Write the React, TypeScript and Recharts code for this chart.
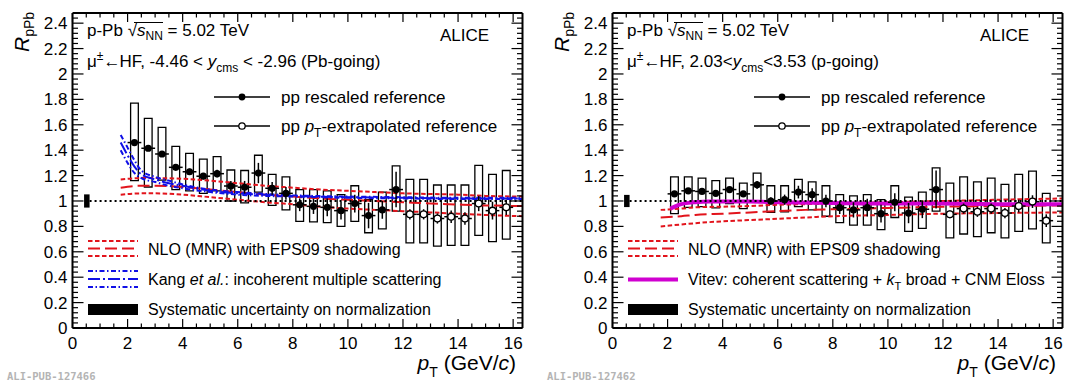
import React from "react";
import {
  ComposedChart,
  XAxis,
  YAxis,
  Line,
  Scatter,
  ErrorBar,
  ReferenceArea,
  ReferenceLine,
} from "recharts";

const FONT = '"Liberation Sans", Arial, Helvetica, sans-serif';
const RED = "#e2141c";
const BLUE = "#1010e6";
const MAGENTA = "#d000d0";

// ---------------- data ----------------
const ptBins = [
  2.25, 2.75, 3.25, 3.75, 4.25, 4.75, 5.25, 5.75, 6.25, 6.75, 7.25, 7.75, 8.25, 8.75,
  9.25, 9.75, 10.25, 10.75, 11.25, 11.75, 12.25, 12.75, 13.25, 13.75, 14.25, 14.75, 15.25, 15.75,
];
const binHalfWidth = 0.25;
const nRescaled = 20; // bins using pp rescaled reference; the rest use pT-extrapolated reference

// Backward (Pb-going)
const bwdRpPb = [1.46, 1.415, 1.37, 1.265, 1.23, 1.195, 1.215, 1.118, 1.108, 1.22, 1.1, 1.06, 0.97, 0.958, 0.95, 0.924, 0.98, 0.885, 0.93, 1.09, 0.895, 0.895, 0.862, 0.876, 0.862, 0.98, 0.924, 0.95];
const bwdStat = [0.02, 0.02, 0.02, 0.02, 0.025, 0.025, 0.03, 0.04, 0.05, 0.08, 0.05, 0.05, 0.05, 0.06, 0.07, 0.07, 0.07, 0.1, 0.07, 0.14, 0.04, 0.04, 0.04, 0.05, 0.05, 0.06, 0.07, 0.06];
const bwdSysLow = [1.16, 1.11, 1.165, 1.09, 1.08, 1.06, 1.08, 1.0, 0.985, 1.07, 0.965, 0.93, 0.84, 0.835, 0.83, 0.8, 0.84, 0.75, 0.78, 0.92, 0.67, 0.67, 0.645, 0.65, 0.65, 0.73, 0.68, 0.7];
const bwdSysHigh = [1.77, 1.65, 1.58, 1.43, 1.375, 1.33, 1.35, 1.244, 1.24, 1.36, 1.21, 1.19, 1.09, 1.09, 1.08, 1.05, 1.12, 1.01, 1.07, 1.276, 1.17, 1.17, 1.126, 1.126, 1.126, 1.28, 1.21, 1.24];
const bwdNorm = 0.052;

// Forward (p-going)
const fwdRpPb = [1.056, 1.08, 1.075, 1.06, 1.09, 1.056, 1.127, 1.0, 1.01, 1.07, 1.05, 1.0, 0.947, 0.93, 0.947, 0.9, 0.99, 0.905, 0.935, 1.09, 0.895, 0.94, 0.915, 0.94, 0.905, 0.96, 0.995, 0.845];
const fwdStat = [0.015, 0.015, 0.015, 0.015, 0.02, 0.02, 0.03, 0.03, 0.04, 0.05, 0.05, 0.05, 0.05, 0.06, 0.07, 0.07, 0.07, 0.08, 0.07, 0.15, 0.03, 0.04, 0.04, 0.04, 0.04, 0.05, 0.05, 0.05];
const fwdSysLow = [0.9, 0.95, 0.955, 0.945, 0.98, 0.94, 1.0, 0.91, 0.915, 0.955, 0.93, 0.88, 0.83, 0.81, 0.81, 0.775, 0.87, 0.76, 0.785, 0.92, 0.71, 0.74, 0.72, 0.75, 0.71, 0.76, 0.78, 0.67];
const fwdSysHigh = [1.19, 1.19, 1.18, 1.16, 1.18, 1.14, 1.22, 1.12, 1.12, 1.17, 1.15, 1.12, 1.05, 1.04, 1.05, 1.01, 1.12, 1.03, 1.07, 1.26, 1.14, 1.19, 1.15, 1.18, 1.13, 1.21, 1.235, 1.06];
const fwdNorm = 0.048;

// NLO (MNR) + EPS09, backward
const nloBwdX = [1.75, 2.5, 3, 4, 5, 6, 7, 8, 9, 10, 11, 12, 13, 14, 15, 16.34];
const nloBwdUp = [1.17, 1.18, 1.18, 1.175, 1.16, 1.14, 1.12, 1.105, 1.09, 1.08, 1.07, 1.06, 1.055, 1.05, 1.04, 1.035];
const nloBwdMid = [1.105, 1.12, 1.12, 1.11, 1.09, 1.07, 1.05, 1.035, 1.02, 1.01, 1.0, 0.99, 0.98, 0.972, 0.965, 0.96];
const nloBwdLow = [1.05, 1.06, 1.06, 1.05, 1.03, 1.01, 0.99, 0.975, 0.955, 0.94, 0.93, 0.92, 0.91, 0.9, 0.89, 0.88];

// Kang et al., backward
const kangX = [1.75, 2.0, 2.25, 2.5, 3, 3.5, 4, 5, 6, 7, 8, 10, 12, 14, 16.34];
const kangUp = [1.52, 1.42, 1.32, 1.24, 1.19, 1.16, 1.13, 1.09, 1.07, 1.055, 1.045, 1.035, 1.03, 1.025, 1.025];
const kangMid = [1.46, 1.36, 1.27, 1.21, 1.17, 1.14, 1.12, 1.08, 1.06, 1.05, 1.04, 1.03, 1.025, 1.02, 1.02];
const kangLow = [1.4, 1.3, 1.22, 1.18, 1.15, 1.12, 1.1, 1.07, 1.05, 1.04, 1.035, 1.025, 1.02, 1.015, 1.015];

// NLO (MNR) + EPS09, forward
const nloFwdX = [1.75, 2.5, 3, 4, 5, 6, 7, 8, 10, 12, 14, 16.34];
const nloFwdUp = [0.93, 0.94, 0.95, 0.955, 0.96, 0.97, 0.975, 0.98, 0.99, 1.0, 1.01, 1.02];
const nloFwdMid = [0.87, 0.88, 0.89, 0.9, 0.91, 0.92, 0.93, 0.935, 0.945, 0.955, 0.96, 0.965];
const nloFwdLow = [0.8, 0.815, 0.825, 0.84, 0.85, 0.86, 0.87, 0.88, 0.89, 0.9, 0.905, 0.91];

// Vitev, forward
const vitevX = [2.1, 2.3, 2.5, 2.75, 3, 3.5, 4, 5, 6, 8, 10, 12, 14, 16.34];
const vitevY = [0.94, 0.96, 0.975, 0.985, 0.99, 0.995, 0.995, 0.995, 0.99, 0.985, 0.98, 0.98, 0.975, 0.975];

const xTicks = Array.from({ length: 33 }, (_, i) => i * 0.5);
const yTicks = Array.from({ length: 62 }, (_, i) => Math.round(i * 4) / 100);

// ---------------- layout ----------------
const X_MAX = 16.34;
const Y_MAX = 2.48;
const PANEL_W = 540;
const H = 383;
const PLOT_LEFT = 72.5;
const PLOT_RIGHT_GAP = 17.5;
const PLOT_TOP = 13;
const PLOT_BOTTOM_GAP = 55;
const BOX_HALF = 0.14;
const NORM_X = [0.42, 0.62];

const isMajorX = (v: number) => Math.abs(v / 2 - Math.round(v / 2)) < 1e-6;
const isMajorY = (v: number) => Math.round(v * 100) % 20 === 0;
const fmtY = (v: number) => (Math.abs(v - Math.round(v)) < 1e-6 ? String(Math.round(v)) : v.toFixed(1));

const BottomTick = (p: any) => {
  const v = p.payload.value;
  const M = isMajorX(v);
  return (
    <g>
      <line x1={p.x} x2={p.x} y1={p.y} y2={p.y - (M ? 9 : 4.5)} stroke="#000" strokeWidth={1.2} />
      {M && (
        <text x={p.x} y={p.y + 21} textAnchor="middle" fontSize={17} fontFamily={FONT} fill="#000">
          {v}
        </text>
      )}
    </g>
  );
};
const TopTick = (p: any) => {
  const v = p.payload.value;
  const M = isMajorX(v);
  return <line x1={p.x} x2={p.x} y1={p.y} y2={p.y + (M ? 9 : 4.5)} stroke="#000" strokeWidth={1.2} />;
};
const LeftTick = (p: any) => {
  const v = p.payload.value;
  const M = isMajorY(v);
  return (
    <g>
      <line x1={p.x} x2={p.x + (M ? 11 : 5.5)} y1={p.y} y2={p.y} stroke="#000" strokeWidth={1.2} />
      {M && (
        <text x={p.x - 5} y={p.y + 6} textAnchor="end" fontSize={17} fontFamily={FONT} fill="#000">
          {fmtY(v)}
        </text>
      )}
    </g>
  );
};
const RightTick = (p: any) => {
  const v = p.payload.value;
  const M = isMajorY(v);
  return <line x1={p.x} x2={p.x - (M ? 11 : 5.5)} y1={p.y} y2={p.y} stroke="#000" strokeWidth={1.2} />;
};

const FilledDot = (p: any) => <circle cx={p.cx} cy={p.cy} r={3.6} fill="#000" />;
const OpenDot = (p: any) => <circle cx={p.cx} cy={p.cy} r={3.4} fill="#fff" stroke="#000" strokeWidth={1.3} />;
const NoDot = () => <g />;

type Curve = { xs: number[]; ys: number[]; color: string; dash?: string; width: number };

function Panel(props: {
  rpPb: number[];
  stat: number[];
  sysLow: number[];
  sysHigh: number[];
  norm: number;
  curves: Curve[];
}) {
  const { rpPb, stat, sysLow, sysHigh, norm, curves } = props;
  const pts = ptBins.map((x, i) => ({ x, y: rpPb[i], ex: binHalfWidth, ey: stat[i] }));
  const filled = pts.slice(0, nRescaled);
  const open = pts.slice(nRescaled);
  const axisLine = { stroke: "#000", strokeWidth: 2 };
  return (
    <ComposedChart width={PANEL_W} height={H} margin={{ top: 0, right: 0, bottom: 0, left: 0 }}>
      <XAxis xAxisId="b" type="number" dataKey="x" domain={[0, X_MAX]} allowDataOverflow ticks={xTicks} interval={0}
        tickSize={0} tickMargin={0} tick={BottomTick} tickLine={false} axisLine={axisLine} height={PLOT_BOTTOM_GAP} orientation="bottom" />
      <XAxis xAxisId="t" type="number" dataKey="x" domain={[0, X_MAX]} allowDataOverflow ticks={xTicks} interval={0}
        tickSize={0} tickMargin={0} tick={TopTick} tickLine={false} axisLine={axisLine} height={PLOT_TOP} orientation="top" />
      <YAxis yAxisId="l" type="number" dataKey="y" domain={[0, Y_MAX]} allowDataOverflow ticks={yTicks} interval={0}
        tickSize={0} tickMargin={0} tick={LeftTick} tickLine={false} axisLine={axisLine} width={PLOT_LEFT} orientation="left" />
      <YAxis yAxisId="r" type="number" dataKey="y" domain={[0, Y_MAX]} allowDataOverflow ticks={yTicks} interval={0}
        tickSize={0} tickMargin={0} tick={RightTick} tickLine={false} axisLine={axisLine} width={PLOT_RIGHT_GAP} orientation="right" />

      {ptBins.map((x, i) => (
        <ReferenceArea key={"sys" + i} xAxisId="b" yAxisId="l" x1={x - BOX_HALF} x2={x + BOX_HALF}
          y1={sysLow[i]} y2={sysHigh[i]} fill="none" fillOpacity={0} stroke="#000" strokeWidth={1.3} ifOverflow="visible" />
      ))}
      <ReferenceArea xAxisId="b" yAxisId="l" x1={NORM_X[0]} x2={NORM_X[1]} y1={1 - norm} y2={1 + norm}
        fill="#000" fillOpacity={1} stroke="none" ifOverflow="visible" />

      {curves.map((c, i) => (
        <Line key={"c" + i} xAxisId="b" yAxisId="l" data={c.xs.map((x, j) => ({ x, y: c.ys[j] }))} dataKey="y"
          type="monotone" dot={false} activeDot={false} stroke={c.color} strokeWidth={c.width}
          strokeDasharray={c.dash} isAnimationActive={false} />
      ))}

      <ReferenceLine xAxisId="b" yAxisId="l" segment={[{ x: NORM_X[1], y: 1 }, { x: X_MAX, y: 1 }]}
        stroke="#000" strokeWidth={2} strokeDasharray="2 3" />

      <Scatter xAxisId="b" yAxisId="l" data={pts} dataKey="y" shape={NoDot} isAnimationActive={false}>
        <ErrorBar dataKey="ex" direction="x" width={0} stroke="#000" strokeWidth={1.5} isAnimationActive={false} />
        <ErrorBar dataKey="ey" direction="y" width={0} stroke="#000" strokeWidth={1.5} isAnimationActive={false} />
      </Scatter>
      <Scatter xAxisId="b" yAxisId="l" data={filled} dataKey="y" shape={FilledDot} isAnimationActive={false} />
      <Scatter xAxisId="b" yAxisId="l" data={open} dataKey="y" shape={OpenDot} isAnimationActive={false} />
    </ComposedChart>
  );
}

const T = (p: any) => <text fontFamily={FONT} fill="#000" {...p} />;

function PanelText(props: { ox: number; forward: boolean }) {
  const { ox, forward } = props;
  return (
    <g>
      {/* y title */}
      <text transform={`translate(${ox + 29},52) rotate(-90)`} fontFamily={FONT} fontSize={21} fontStyle="italic" fill="#000">
        R<tspan fontSize={14} fontStyle="normal" dy={5}>pPb</tspan>
      </text>
      {/* x title */}
      <T x={ox + 516} y={370} fontSize={21} textAnchor="end">
        <tspan fontStyle="italic">p</tspan>
        <tspan fontSize={14} dy={7}>T</tspan>
        <tspan dy={-7}> (GeV/</tspan>
        <tspan fontStyle="italic">c</tspan>)
      </T>
      <text x={ox + 7} y={380} fontFamily='"DejaVu Sans Mono", monospace' fontWeight="bold" fontSize={10.5} fill="#b4b4b4">
        {forward ? "ALI-PUB-127462" : "ALI-PUB-127466"}
      </text>

      {/* header */}
      <T x={ox + 87} y={36} fontSize={17}>
        p-Pb <tspan>√</tspan>
        <tspan fontStyle="italic">s</tspan>
        <tspan fontSize={12} dy={4}>NN</tspan>
        <tspan dy={-4}> = 5.02 TeV</tspan>
      </T>
      <line x1={ox + 134} x2={ox + 163} y1={22.5} y2={22.5} stroke="#000" strokeWidth={1} />
      <T x={ox + 440} y={41} fontSize={17}>ALICE</T>
      {forward ? (
        <T x={ox + 87} y={67} fontSize={17}>
          μ<tspan fontSize={12} dy={-7}>±</tspan>
          <tspan dy={7} letterSpacing={-1}>←</tspan>
          <tspan>HF, 2.03&lt;</tspan>
          <tspan fontStyle="italic">y</tspan>
          <tspan fontSize={12} dy={5}>cms</tspan>
          <tspan dy={-5}>&lt;3.53 (p-going)</tspan>
        </T>
      ) : (
        <T x={ox + 87} y={67} fontSize={17}>
          μ<tspan fontSize={12} dy={-7}>±</tspan>
          <tspan dy={7} letterSpacing={-1}>←</tspan>
          <tspan>HF, -4.46 &lt; </tspan>
          <tspan fontStyle="italic">y</tspan>
          <tspan fontSize={12} dy={5}>cms</tspan>
          <tspan dy={-5}> &lt; -2.96 (Pb-going)</tspan>
        </T>
      )}

      {/* data legend */}
      <line x1={ox + 214} x2={ox + 270} y1={97} y2={97} stroke="#000" strokeWidth={1.5} />
      <circle cx={ox + 242} cy={97} r={3.4} fill="#000" />
      <T x={ox + 281} y={103} fontSize={17}>pp rescaled reference</T>
      <line x1={ox + 214} x2={ox + 270} y1={126} y2={126} stroke="#000" strokeWidth={1.5} />
      <circle cx={ox + 242} cy={126} r={3.2} fill="#fff" stroke="#000" strokeWidth={1.3} />
      <T x={ox + 281} y={132} fontSize={17}>
        pp <tspan fontStyle="italic">p</tspan>
        <tspan fontSize={12} dy={5}>T</tspan>
        <tspan dy={-5}>-extrapolated reference</tspan>
      </T>

      {/* model legend */}
      <line x1={ox + 88} x2={ox + 138} y1={241} y2={241} stroke={RED} strokeWidth={2} strokeDasharray="4.5 2.5" />
      <line x1={ox + 88} x2={ox + 138} y1={248.5} y2={248.5} stroke={RED} strokeWidth={2} strokeDasharray="12 5" />
      <line x1={ox + 88} x2={ox + 138} y1={256} y2={256} stroke={RED} strokeWidth={2} strokeDasharray="4.5 2.5" />
      <T x={ox + 148} y={254.5} fontSize={16}>NLO (MNR) with EPS09 shadowing</T>
      {forward ? (
        <g>
          <line x1={ox + 88} x2={ox + 138} y1={279.5} y2={279.5} stroke={MAGENTA} strokeWidth={4} />
          <T x={ox + 148} y={285} fontSize={16}>
            Vitev: coherent scattering + <tspan fontStyle="italic">k</tspan>
            <tspan fontSize={11} dy={5}>T</tspan>
            <tspan dy={-5}> broad + CNM Eloss</tspan>
          </T>
        </g>
      ) : (
        <g>
          <line x1={ox + 88} x2={ox + 138} y1={271} y2={271} stroke={BLUE} strokeWidth={2} strokeDasharray="5 2.5 1.5 2.5" />
          <line x1={ox + 88} x2={ox + 138} y1={279} y2={279} stroke={BLUE} strokeWidth={2} strokeDasharray="12 3 2 3" />
          <line x1={ox + 88} x2={ox + 138} y1={287} y2={287} stroke={BLUE} strokeWidth={2} strokeDasharray="5 2.5 1.5 2.5" />
          <T x={ox + 148} y={285} fontSize={16}>
            Kang <tspan fontStyle="italic">et al.</tspan>: incoherent multiple scattering
          </T>
        </g>
      )}
      <rect x={ox + 88} y={304} width={50} height={11} fill="#000" />
      <T x={ox + 148} y={315} fontSize={16}>Systematic uncertainty on normalization</T>
    </g>
  );
}

export default function App() {
  const bwdCurves: Curve[] = [
    { xs: nloBwdX, ys: nloBwdUp, color: RED, dash: "4.5 2.5", width: 2 },
    { xs: nloBwdX, ys: nloBwdMid, color: RED, dash: "12 5", width: 2 },
    { xs: nloBwdX, ys: nloBwdLow, color: RED, dash: "4.5 2.5", width: 2 },
    { xs: kangX, ys: kangUp, color: BLUE, dash: "5 2.5 1.5 2.5", width: 2 },
    { xs: kangX, ys: kangMid, color: BLUE, dash: "12 3 2 3", width: 2 },
    { xs: kangX, ys: kangLow, color: BLUE, dash: "5 2.5 1.5 2.5", width: 2 },
  ];
  const fwdCurves: Curve[] = [
    { xs: nloFwdX, ys: nloFwdUp, color: RED, dash: "4.5 2.5", width: 2 },
    { xs: nloFwdX, ys: nloFwdMid, color: RED, dash: "12 5", width: 2 },
    { xs: nloFwdX, ys: nloFwdLow, color: RED, dash: "4.5 2.5", width: 2 },
    { xs: vitevX, ys: vitevY, color: MAGENTA, width: 4 },
  ];
  return (
    <div style={{ position: "absolute", left: 0, top: 0, width: 1068, height: 383, background: "#fff", overflow: "hidden" }}>
      <div style={{ position: "absolute", left: 0, top: 0 }}>
        <Panel rpPb={bwdRpPb} stat={bwdStat} sysLow={bwdSysLow} sysHigh={bwdSysHigh} norm={bwdNorm} curves={bwdCurves} />
      </div>
      <div style={{ position: "absolute", left: 540, top: 0 }}>
        <Panel rpPb={fwdRpPb} stat={fwdStat} sysLow={fwdSysLow} sysHigh={fwdSysHigh} norm={fwdNorm} curves={fwdCurves} />
      </div>
      <svg width={1068} height={383} style={{ position: "absolute", left: 0, top: 0, pointerEvents: "none" }}>
        <PanelText ox={0} forward={false} />
        <PanelText ox={540} forward={true} />
      </svg>
    </div>
  );
}
